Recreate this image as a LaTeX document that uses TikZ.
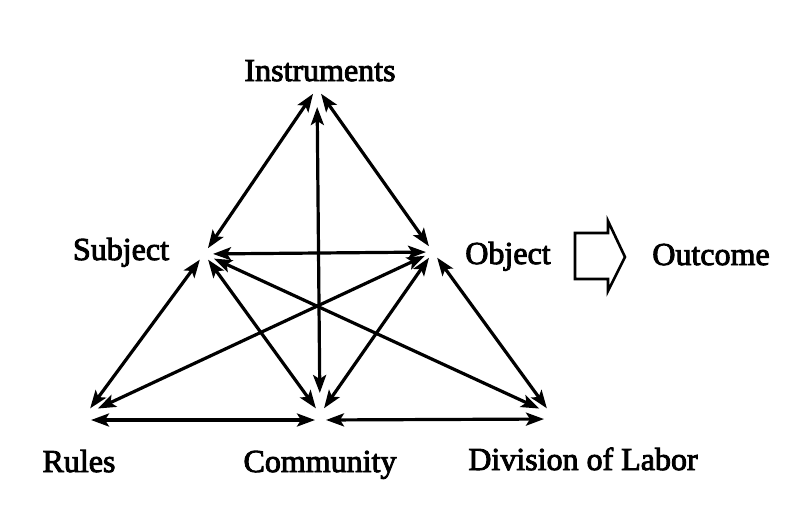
\documentclass[tikz,border=0pt]{standalone}
\usepackage{fontspec}
\setmainfont{Liberation Serif}
\usetikzlibrary{arrows.meta}
\newcommand{\heavytext}[1]{\special{pdf:literal direct 2 Tr 0.9 w}#1\special{pdf:literal direct 0 Tr}}
\begin{document}
\begin{tikzpicture}[x=1pt,y=-1pt,
  lbl/.style={anchor=base,inner sep=0pt,font=\fontsize{32}{36}\selectfont},
  link/.style={line width=3.2pt,{Stealth[length=18pt,width=13pt,inset=4pt]}-{Stealth[length=18pt,width=13pt,inset=4pt]},shorten <=7pt,shorten >=7pt},
  blockarrow/.style={draw,line width=2.6pt,line join=miter,fill=white}]
\useasboundingbox (0,0) rectangle (786,507);
% vertices
\coordinate (I) at (317,88);
\coordinate (S) at (204,254);
\coordinate (O) at (433,252);
\coordinate (R) at (86,414);
\coordinate (C) at (320,414);
\coordinate (D) at (551,414);
% labels
\node[lbl] (tI) at (320,81) {\heavytext{Instruments}};
\node[lbl] (tS) at (121,260) {\heavytext{Subject}};
\node[lbl] (tO) at (508,264) {\heavytext{Object}};
\node[lbl] (tOut) at (711,265) {\heavytext{Outcome}};
\node[lbl] (tR) at (79,472) {\heavytext{Rules}};
\node[lbl] (tC) at (320,472) {\heavytext{Community}};
\node[lbl] (tD) at (583,470) {\heavytext{Division of Labor}};
% links
\draw[link] (I) -- (S);
\draw[link] (I) -- (O);
\draw[link,shorten <=19pt,shorten >=21pt] (I) -- (C);
\draw[link,shorten <=9pt,shorten >=7pt] (S) -- (O);
\draw[link] (S) -- (R);
\draw[link] (S) -- (C);
\draw[link,shorten <=11pt,shorten >=13pt] (S) -- (D);
\draw[link,shorten <=9pt,shorten >=13pt] (O) -- (R);
\draw[link] (O) -- (C);
\draw[link] (O) -- (D);
\draw[link,shorten <=5pt,shorten >=5pt] ([yshift=-6pt]R) -- ([yshift=-6pt]C);
\draw[link,shorten <=6pt,shorten >=7pt] ([yshift=-6pt]C) -- ([yshift=-5pt]D);
% outcome block arrow
\coordinate (ba) at (575,233);
\draw[blockarrow] (ba) -- ++(33,0) -- ++(0,-12) -- ++(17,36) -- ++(-17,34) -- ++(0,-12) -- ++(-33,0) -- cycle;
\end{tikzpicture}
\end{document}
